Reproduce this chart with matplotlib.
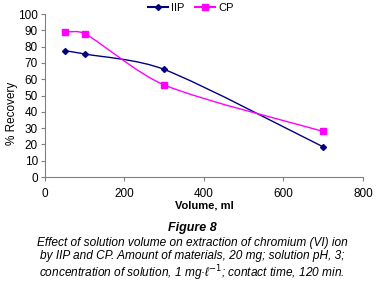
import matplotlib.pyplot as plt
import numpy as np
from matplotlib.path import Path
from matplotlib.patches import PathPatch

plt.rcParams['font.family'] = ['Liberation Sans', 'DejaVu Sans']

volume = [50, 100, 300, 700]
iip = [77.5, 75.5, 66, 18.5]
cp = [89, 88, 56.5, 28]

def smooth_path(xs, ys):
    # excel-like smoothing: catmull-rom beziers, handles kept inside the segment
    p = np.column_stack([xs, ys]).astype(float)
    n = len(p)
    verts = [p[0]]
    codes = [Path.MOVETO]
    for i in range(n - 1):
        h = p[i + 1, 0] - p[i, 0]
        d1 = (p[i + 1] - p[max(i - 1, 0)]) / 6
        d2 = (p[min(i + 2, n - 1)] - p[i]) / 6
        if d1[0] > h / 3:
            d1 = d1 * (h / 3) / d1[0]
        if d2[0] > h / 3:
            d2 = d2 * (h / 3) / d2[0]
        verts += [p[i] + d1, p[i + 1] - d2, p[i + 1]]
        codes += [Path.CURVE4] * 3
    return Path(verts, codes)

fig = plt.figure(figsize=(3.84, 2.89), dpi=100)
ax = fig.add_axes([0.117, 0.3875, 0.828, 0.564])

handles = []
for ys, col, mk, ms, lab in [(iip, '#000080', 'D', 3, 'IIP'), (cp, '#FF00FF', 's', 5, 'CP')]:
    ax.add_patch(PathPatch(smooth_path(volume, ys), facecolor='none', edgecolor=col, lw=1))
    ax.plot(volume, ys, ls='none', marker=mk, ms=ms, color=col)
    h, = ax.plot([], [], color=col, lw=1.5, marker=mk, ms=ms, label=lab)
    handles.append(h)

ax.set_xlim(0, 800)
ax.set_ylim(0, 100)
ax.set_xticks([0, 200, 400, 600, 800])
ax.set_yticks(range(0, 101, 10))
ax.tick_params(labelsize=8.5, length=3, color='#808080', pad=2)
ax.tick_params(axis='x', pad=5)
for s in ['top', 'right']:
    ax.spines[s].set_visible(False)
for s in ['left', 'bottom']:
    ax.spines[s].set_color('#808080')
ax.set_xlabel('Volume, ml', fontsize=8, fontweight='bold', labelpad=0)
ax.set_ylabel('% Recovery', fontsize=8.5)
ax.yaxis.set_label_coords(-0.085, 0.39)

fig.legend(handles=handles, loc='center left', bbox_to_anchor=(0.37, 0.972), ncol=2, frameon=False,
           fontsize=8, handlelength=1.8, handletextpad=0.3, columnspacing=1.0, borderpad=0)

fig.text(0.5, 0.2, 'Figure 8', ha='center', fontsize=9, style='italic', fontweight='bold')
fig.text(0.5, 0.04, 'Effect of solution volume on extraction of chromium (VI) ion\n'
         'by IIP and CP. Amount of materials, 20 mg; solution pH, 3;\n'
         'concentration of solution, 1 mg·ℓ$^{-1}$; contact time, 120 min.',
         ha='center', fontsize=8.6, style='italic', linespacing=1.12)

fig.savefig('out.png', dpi=100)
